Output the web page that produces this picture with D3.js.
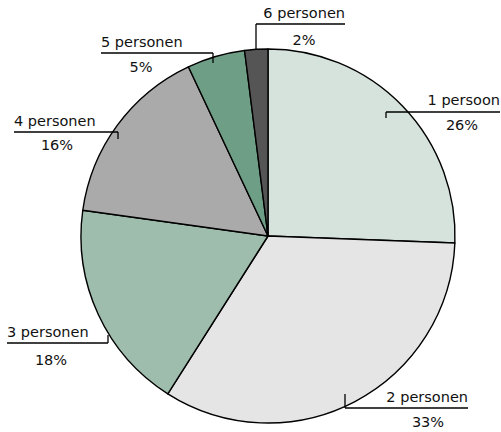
<!DOCTYPE html>
<html><head><meta charset="utf-8">
<script src="https://cdn.jsdelivr.net/npm/d3@7"></script>
<style>body{margin:0;background:#fff}svg{display:block}</style>
</head><body>
<script>
const categories = ["1 persoon","2 personen","3 personen","4 personen","5 personen","6 personen"];
const values = [25.6, 33.4, 18.2, 15.8, 5.0, 2.0];
const pctLabels = ["26%","33%","18%","16%","5%","2%"];
const colors = ["#d6e3dc","#e5e5e5","#9fbdad","#aaaaaa","#6f9e87","#555555"];

// label layout: line y, line x1..x2, tick x, tick end y, text anchor, text x, name baseline, pct x, pct baseline
const layout = [
  {ly:112, x1:386, x2:500, tx:386, ty:118, anchor:"end", nx:500, ny:105, px:462, py:130},
  {ly:408, x1:345, x2:468, tx:345, ty:394, anchor:"end", nx:468, ny:402, px:428, py:427},
  {ly:343, x1:7,   x2:108, tx:108, ty:335, anchor:"start", nx:7, ny:337, px:51, py:365},
  {ly:132, x1:14,  x2:118, tx:118, ty:139, anchor:"start", nx:14, ny:126, px:57, py:150},
  {ly:53,  x1:101, x2:213, tx:213, ty:63,  anchor:"start", nx:101, ny:47, px:141, py:72},
  {ly:24,  x1:256, x2:345, tx:256, ty:50,  anchor:"end", nx:345, ny:18, px:304, py:45}
];

const W=501,H=432, cx=268, cy=236, R=187;
const svg=d3.select("body").append("svg").attr("width",W).attr("height",H);
const g=svg.append("g").attr("transform",`translate(${cx},${cy})`);
const pie=d3.pie().sort(null).value(d=>d)(values);
const arc=d3.arc().innerRadius(0).outerRadius(R);
g.selectAll("path").data(pie).join("path")
  .attr("d",arc).attr("fill",(d,i)=>colors[i])
  .attr("stroke","#000").attr("stroke-width",1.4).attr("stroke-linejoin","round");

const lab=svg.append("g").attr("font-family","DejaVu Sans, sans-serif").attr("font-size",14.5).attr("fill","#111");
categories.forEach((c,i)=>{
  const L=layout[i];
  lab.append("line").attr("x1",L.x1).attr("x2",L.x2).attr("y1",L.ly).attr("y2",L.ly).attr("stroke","#000").attr("stroke-width",1.3);
  lab.append("line").attr("x1",L.tx).attr("x2",L.tx).attr("y1",L.ly).attr("y2",L.ty).attr("stroke","#000").attr("stroke-width",1.3);
  lab.append("text").attr("x",L.nx).attr("y",L.ny).attr("text-anchor",L.anchor).text(c);
  lab.append("text").attr("x",L.px).attr("y",L.py).attr("text-anchor","middle").text(pctLabels[i]);
});
</script>
</body></html>
